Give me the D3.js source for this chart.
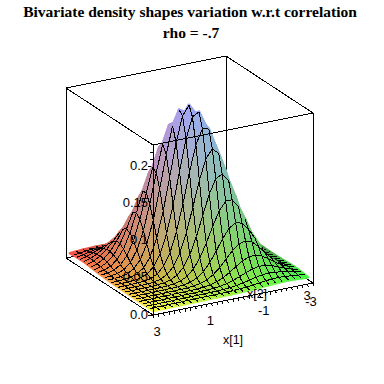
<!DOCTYPE html>
<html><head><meta charset="utf-8">
<script src="https://cdn.jsdelivr.net/npm/d3@7"></script>
<style>html,body{margin:0;padding:0;background:#fff}svg{display:block}</style>
</head><body><svg id="c" width="384" height="384"></svg>
<script>
const titleLines = ["Bivariate density shapes variation w.r.t correlation", "rho = -.7"];
const x1Ticks = [3, 1, -1, -3];
const x1MinorTicks = [3,2.8,2.6,2.4,2.2,2,1.8,1.6,1.4,1.2,1,0.8,0.6,0.4,0.2,0,-0.2,-0.4,-0.6,-0.8,-1,-1.2,-1.4,-1.6,-1.8,-2,-2.2,-2.4,-2.6,-2.8,-3];
const zTicks = ["0.0", "0.05", "0.1", "0.15", "0.2"];
const gridValues = [-3,-2.75,-2.5,-2.25,-2,-1.75,-1.5,-1.25,-1,-0.75,-0.5,-0.25,0,0.25,0.5,0.75,1,1.25,1.5,1.75,2,2.25,2.5,2.75,3];
// density height read from the surface, in units of 0.0001; rows: x[1] from -3 to 3, columns: x[2] from -3 to 3
const density = [
[0,0,0,0,0,0,0,0,0,0,0,0,0,1,2,4,8,12,17,22,25,24,21,17,11],
[0,0,0,0,0,0,0,0,0,0,0,0,1,3,7,13,22,33,43,49,51,46,37,26,16],
[0,0,0,0,0,0,0,0,0,0,1,2,5,11,21,37,56,77,92,98,92,77,56,37,21],
[0,0,0,0,0,0,0,0,0,1,3,7,16,32,57,91,128,160,176,172,148,113,76,46,24],
[0,0,0,0,0,0,0,0,1,3,9,21,44,83,136,199,258,295,299,268,212,149,92,51,25],
[0,0,0,0,0,0,0,1,4,11,26,57,111,190,288,386,459,482,448,368,268,172,98,49,22],
[0,0,0,0,0,0,1,4,12,30,69,138,245,387,538,663,722,696,594,448,299,176,92,43,17],
[0,0,0,0,0,1,4,12,33,77,160,295,482,695,889,1004,1004,889,695,482,295,160,77,33,12],
[0,0,0,0,1,4,12,32,79,172,329,558,836,1109,1300,1349,1238,1005,722,459,258,128,56,22,8],
[0,0,0,1,3,11,30,77,172,342,600,934,1284,1562,1681,1601,1348,1005,662,386,199,91,37,13,4],
[0,0,1,3,9,26,69,160,329,601,969,1382,1744,1948,1924,1681,1300,889,538,288,136,57,21,7,2],
[0,0,2,7,21,57,138,295,558,934,1382,1809,2096,2148,1947,1562,1108,696,386,190,83,32,11,3,1],
[0,1,5,16,44,111,245,482,836,1284,1744,2096,2229,2096,1744,1284,836,482,245,111,44,16,5,1,0],
[1,3,11,32,83,190,386,696,1108,1562,1947,2148,2096,1809,1382,934,558,295,138,57,21,7,2,0,0],
[2,7,21,57,136,288,538,889,1300,1681,1924,1948,1744,1382,969,601,329,160,69,26,9,3,1,0,0],
[4,13,37,91,199,386,662,1005,1348,1601,1681,1562,1284,934,600,342,172,77,30,11,3,1,0,0,0],
[8,22,56,128,258,459,722,1005,1238,1349,1300,1109,836,558,329,172,79,32,12,4,1,0,0,0,0],
[12,33,77,160,295,482,695,889,1004,1004,889,695,482,295,160,77,33,12,4,1,0,0,0,0,0],
[17,43,92,176,299,448,594,696,722,663,538,387,245,138,69,30,12,4,1,0,0,0,0,0,0],
[22,49,98,172,268,368,448,482,459,386,288,190,111,57,26,11,4,1,0,0,0,0,0,0,0],
[25,51,92,149,212,268,299,295,258,199,136,83,44,21,9,3,1,0,0,0,0,0,0,0,0],
[24,46,76,113,148,172,176,160,128,91,57,32,16,7,3,1,0,0,0,0,0,0,0,0,0],
[21,37,56,77,92,98,92,77,56,37,21,11,5,2,1,0,0,0,0,0,0,0,0,0,0],
[16,26,37,46,51,49,43,33,22,13,7,3,1,0,0,0,0,0,0,0,0,0,0,0,0],
[11,17,21,24,25,22,17,12,8,4,2,1,0,0,0,0,0,0,0,0,0,0,0,0,0]
];

// Oblique projection built from scales: one scale per data axis and per screen direction
function projector(ox, oy, x1dx, x1dy, x2dx, x2dy, zTop, zPx) {
  const ax = d3.scaleLinear().domain([3,-3]).range([0,x1dx]);
  const ay = d3.scaleLinear().domain([3,-3]).range([0,x1dy]);
  const bx = d3.scaleLinear().domain([3,-3]).range([0,x2dx]);
  const by = d3.scaleLinear().domain([3,-3]).range([0,x2dy]);
  const cz = d3.scaleLinear().domain([0,zTop]).range([0,zPx]);
  return (x1,x2,z) => [ox+ax(x1)+bx(x2), oy+ay(x1)+by(x2)-cz(z)];
}
const zMax = 0.2297;
const boxP = projector(153,315,160,-32,-87,-57,zMax,170);
const surfP = projector(153,311,155,-33,-83,-57,0.2229,161);

const rScale = d3.scaleLinear().domain([-3,3]).range([70,248]);
const gScale = d3.scaleLinear().domain([-3,3]).range([80,248]);
const bScale = d3.scaleLinear().domain([0,0.2229]).range([70,250]);

const svg = d3.select("#c");
const line = (g,a,b,w) => g.append("line").attr("x1",a[0]).attr("y1",a[1]).attr("x2",b[0]).attr("y2",b[1])
  .attr("stroke","#000").attr("stroke-width",w||1).attr("shape-rendering","crispEdges");

// back part of the box
const back = svg.append("g");
[[[3,-3,zMax],[-3,-3,zMax]],[[-3,-3,zMax],[-3,3,zMax]],
 [[3,-3,0],[3,-3,zMax]],[[-3,-3,0],[-3,-3,zMax]],[[-3,3,0],[-3,3,zMax]],
 [[3,-3,0],[-3,-3,0]],[[-3,-3,0],[-3,3,0]]].forEach(e=>line(back,boxP(...e[0]),boxP(...e[1])));

// z ticks on the near vertical edge (minor every 0.01)
const tg = svg.append("g");
d3.range(0,23).forEach(i=>{
  const p = boxP(3,3,i*0.01);
  line(tg,[p[0]-(i%5===0?5:3),p[1]],p);
});

// surface, back to front
const n = gridValues.length-1;
const cells = [];
for (let i=0;i<n;i++) for (let j=0;j<n;j++) cells.push([i,j]);
const d = (i,j)=>density[i][j]/10000;
const gp = (a,b)=>surfP(gridValues[a],gridValues[b],d(a,b));
const cellPts = ([i,j])=>[gp(i,j),gp(i+1,j),gp(i+1,j+1),gp(i,j+1)];
const cellPath = c=>d3.line()(cellPts(c))+"Z";
const flatSign = Math.sign(d3.polygonArea([surfP(-3,-3,0),surfP(3,-3,0),surfP(3,3,0),surfP(-3,3,0)]));
const facing = (i,j)=> i>=0&&j>=0&&i<n&&j<n && Math.sign(d3.polygonArea(cellPts([i,j])))===flatSign;
// mesh of one cell: every edge shared with another cell that faces the viewer
const cellMesh = ([i,j])=>{
  if(!facing(i,j)) return "";
  const pts = cellPts([i,j]);
  const nb = [[i,j-1],[i+1,j],[i,j+1],[i-1,j]];
  let s="";
  nb.forEach((m,k)=>{ if(facing(m[0],m[1])) s+=d3.line()([pts[k],pts[(k+1)%4]]); });
  return s;
};
const cellColor = ([i,j])=>{
  const x1=(gridValues[i]+gridValues[i+1])/2, x2=(gridValues[j]+gridValues[j+1])/2;
  const z=(d(i,j)+d(i+1,j)+d(i,j+1)+d(i+1,j+1))/4;
  return d3.rgb(rScale(x1),gScale(x2),bScale(z));
};
// filled surface reaches a little past the mesh at its silhouette
svg.append("g").selectAll("path").data(cells).join("path")
  .attr("d",cellPath).attr("fill",cellColor).attr("stroke",cellColor)
  .attr("stroke-width",2.5).attr("stroke-linejoin","round");
const cg = svg.append("g").selectAll("g").data(cells).join("g");
cg.append("path").attr("d",cellPath).attr("fill",cellColor).attr("stroke",cellColor).attr("stroke-width",0.6);
cg.append("path").attr("d",cellMesh).attr("fill","none")
  .attr("stroke","#000").attr("stroke-width",1).attr("shape-rendering","crispEdges");

// front part of the box, over the surface
const front = svg.append("g");
[[[3,3,zMax],[-3,3,zMax]],[[3,3,zMax],[3,-3,zMax]],[[3,3,0],[3,3,zMax]],
 [[3,3,0],[-3,3,0]],[[3,3,0],[3,-3,0]]].forEach(e=>line(front,boxP(...e[0]),boxP(...e[1])));

// x[1] ticks along the near bottom edge
x1MinorTicks.forEach(v=>{
  const p = boxP(v,3,0);
  line(front,p,[p[0]+0.5,p[1]+3]);
});

const txt = (s,x,y,o={}) => svg.append("text").text(s).attr("x",x).attr("y",y)
  .attr("text-anchor",o.anchor||"middle")
  .attr("font-family",o.family||"'Liberation Sans',Arial,sans-serif")
  .attr("font-size",o.size||13).attr("font-weight",o.weight||"normal").attr("fill","#000");

txt(titleLines[0],190,17,{family:"'Liberation Serif','Times New Roman',serif",size:15.5,weight:"bold"});
txt(titleLines[1],191,38,{family:"'Liberation Serif','Times New Roman',serif",size:15.5,weight:"bold"});

zTicks.forEach(t=>{
  const p = boxP(3,3,+t);
  txt(t,p[0]-5,p[1]+3.5,{anchor:"end"});
});
x1Ticks.forEach(v=>{
  const p = boxP(v,3,0);
  txt(v===-3?"-3":String(v),p[0]+(v===-3?-2:4),p[1]+(v===-3?23:21));
});
txt("3",307,300);
txt("x[1]",233,344,{size:12.5});
txt("x[2]",257,298,{size:12.5});
</script></body></html>
